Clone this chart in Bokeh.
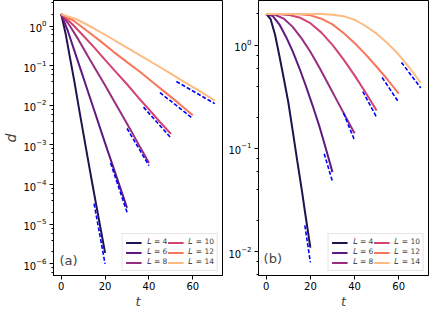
from bokeh.plotting import figure
from bokeh.models import Range1d, FixedTicker, LogTicker, Legend, LegendItem, Label
from bokeh.layouts import row
from bokeh.embed import file_html
from bokeh.resources import INLINE

# ---------------- data ----------------
L_values = [4, 6, 8, 10, 12, 14]
legend_labels = ["𝐿 = 4", "𝐿 = 6", "𝐿 = 8", "𝐿 = 10", "𝐿 = 12", "𝐿 = 14"]
colors = ["#221150", "#5f187f", "#982d80", "#d3436e", "#f8765c", "#febb81"]

# panel (a): times and distances
ta_L4 = [0, 2, 4, 6, 8, 10, 12, 14, 16, 18, 20]
ta_L6 = [0, 3, 6, 9, 12, 15, 18, 21, 24, 27, 30]
ta_L8 = [0, 4, 8, 12, 16, 20, 24, 28, 32, 36, 40]
ta_L10 = [0, 5, 10, 15, 20, 25, 30, 35, 40, 45, 50]
ta_L12 = [0, 6, 12, 18, 24, 30, 36, 42, 48, 54, 60]
ta_L14 = [0, 7, 14, 21, 28, 35, 42, 49, 56, 63, 70]

da_L4 = [2.0, 0.65, 0.16, 0.040, 9.0e-3, 2.1e-3, 5.0e-4, 1.2e-4, 3.0e-5, 7.6e-6, 1.9e-6]
da_L6 = [2.0, 0.76, 0.24, 0.076, 0.024, 7.6e-3, 2.4e-3, 7.6e-4, 2.5e-4, 8.1e-5, 2.6e-5]
da_L8 = [2.0, 1.0, 0.44, 0.18, 0.076, 0.032, 0.013, 5.4e-3, 2.2e-3, 8.7e-4, 3.5e-4]
da_L10 = [2.0, 1.12, 0.575, 0.29, 0.14, 0.069, 0.034, 0.016, 7.9e-3, 3.8e-3, 1.9e-3]
da_L12 = [2.0, 1.32, 0.74, 0.41, 0.22, 0.123, 0.069, 0.037, 0.020, 0.0107, 5.6e-3]
da_L14 = [2.0, 1.48, 0.93, 0.56, 0.33, 0.195, 0.115, 0.068, 0.039, 0.023, 0.0132]

# panel (b): times and distances
tb_L4 = [0, 2, 4, 6, 8, 10, 12, 14, 16, 18, 20]
tb_L6 = [0, 3, 6, 9, 12, 15, 18, 21, 24, 27, 30]
tb_L8 = [0, 4, 8, 12, 16, 20, 24, 28, 32, 36, 40]
tb_L10 = [0, 5, 10, 15, 20, 25, 30, 35, 40, 45, 50]
tb_L12 = [0, 10, 15, 20, 25, 30, 35, 40, 45, 50, 55, 60]
tb_L14 = [0, 10, 20, 25, 30, 35, 40, 45, 50, 55, 60, 65, 70]

db_L4 = [2.0, 1.78, 1.26, 0.78, 0.47, 0.28, 0.148, 0.077, 0.041, 0.021, 0.011]
db_L6 = [2.0, 1.91, 1.58, 1.20, 0.87, 0.60, 0.40, 0.26, 0.166, 0.10, 0.059]
db_L8 = [2.0, 1.96, 1.80, 1.50, 1.16, 0.863, 0.611, 0.423, 0.292, 0.202, 0.14]
db_L10 = [2.0, 1.995, 1.96, 1.85, 1.63, 1.32, 1.005, 0.728, 0.509, 0.348, 0.233]
db_L12 = [2.0, 1.995, 1.986, 1.94, 1.80, 1.585, 1.31, 1.047, 0.813, 0.617, 0.462, 0.339]
db_L14 = [2.0, 2.0, 2.0, 1.995, 1.97, 1.905, 1.76, 1.53, 1.29, 1.04, 0.81, 0.60, 0.43]

# asymptotic fits (dashed blue)
fit_a_t0 = [15, 22.5, 30, 37.5, 45, 52.5]
fit_a_t1 = [20, 30, 40, 50, 60, 70]
fit_a_d0 = [3.3e-5, 3.5e-4, 2.6e-3, 9.0e-3, 0.021, 0.040]
fit_a_d1 = [1.0e-6, 2.0e-5, 3.0e-4, 1.5e-3, 4.6e-3, 0.011]

fit_b_t0 = [17.5, 26.25, 35, 43.75, 52.5, 61.25]
fit_b_t1 = [20, 30, 40, 50, 60, 70]
fit_b_d0 = [0.018, 0.089, 0.22, 0.355, 0.485, 0.68]
fit_b_d1 = [0.0079, 0.048, 0.12, 0.20, 0.28, 0.385]

x_ticks = [0, 20, 40, 60]

ta_all = [ta_L4, ta_L6, ta_L8, ta_L10, ta_L12, ta_L14]
tb_all = [tb_L4, tb_L6, tb_L8, tb_L10, tb_L12, tb_L14]
da_all = [da_L4, da_L6, da_L8, da_L10, da_L12, da_L14]
db_all = [db_L4, db_L6, db_L8, db_L10, db_L12, db_L14]

FONT = "DejaVu Sans"


def make_panel(fw, ylo, yhi, t_all, d_all, f_t0, f_t1, f_d0, f_d1,
               tag, tag_x, tag_y, ylabel, bl, br):
    p = figure(frame_width=fw, height=311, y_axis_type="log",
               x_range=Range1d(-3.5, 73.5), y_range=Range1d(ylo, yhi),
               output_backend="svg", toolbar_location=None,
               min_border_left=bl, min_border_right=br,
               min_border_top=0, min_border_bottom=31)
    p.xgrid.visible = False
    p.ygrid.visible = False
    p.outline_line_color = "black"
    p.outline_line_width = 1
    p.background_fill_color = "white"

    items = []
    for t, d, c, lab in zip(t_all, d_all, colors, legend_labels):
        r = p.line(t, d, line_color=c, line_width=2)
        items.append(LegendItem(label=lab, renderers=[r]))
    p.segment(f_t0, f_d0, f_t1, f_d1, line_color="blue", line_width=1.6,
              line_dash="4 2")

    p.xaxis.ticker = FixedTicker(ticks=x_ticks)
    p.xaxis.minor_tick_line_color = None
    p.yaxis.ticker = LogTicker(desired_num_ticks=10)
    for ax in (p.xaxis[0], p.yaxis[0]):
        ax.major_tick_out = 4
        ax.major_tick_in = 0
        ax.minor_tick_out = 2
        ax.minor_tick_in = 0
        ax.axis_line_color = "black"
        ax.major_tick_line_color = "black"
        ax.major_label_text_font = FONT
        ax.major_label_text_font_size = "10px"
        ax.major_label_text_color = "black"
        ax.major_label_standoff = 3
        ax.axis_label_text_font = FONT
        ax.axis_label_text_font_size = "14px"
        ax.axis_label_text_font_style = "italic"
        ax.axis_label_standoff = 1
    p.xaxis.axis_label = "t"
    p.xaxis.axis_label_text_font_size = "13px"
    p.xaxis.axis_label_standoff = 1
    p.xaxis.major_label_standoff = 2
    if ylabel:
        p.yaxis.axis_label = ylabel

    leg = Legend(items=items, location="bottom_right", ncols=2,
                 label_text_font=FONT, label_text_font_size="7.5px",
                 label_text_line_height=1.0,
                 glyph_width=16, glyph_height=7, label_standoff=5,
                 spacing=0, padding=3, margin=4, label_height=7,
                 border_line_color="#cccccc", border_line_width=1,
                 background_fill_alpha=0.8)
    p.add_layout(leg)

    p.add_layout(Label(x=tag_x, y=tag_y, text=tag, text_font=FONT,
                       text_font_size="13px", text_baseline="middle"))
    return p


pa = make_panel(169, 5.1e-7, 4.4, ta_all, da_all, fit_a_t0, fit_a_t1,
                fit_a_d0, fit_a_d1, "(a)", -0.8, 1.2e-6, "d", 44, 3)
pb = make_panel(170, 5.9e-3, 2.7, tb_all, db_all, fit_b_t0, fit_b_t1,
                fit_b_d0, fit_b_d1, "(b)", -1.2, 8.6e-3, None, 33, 1)

layout = row(pa, pb)
open("out.html", "w").write(file_html(layout, INLINE))
